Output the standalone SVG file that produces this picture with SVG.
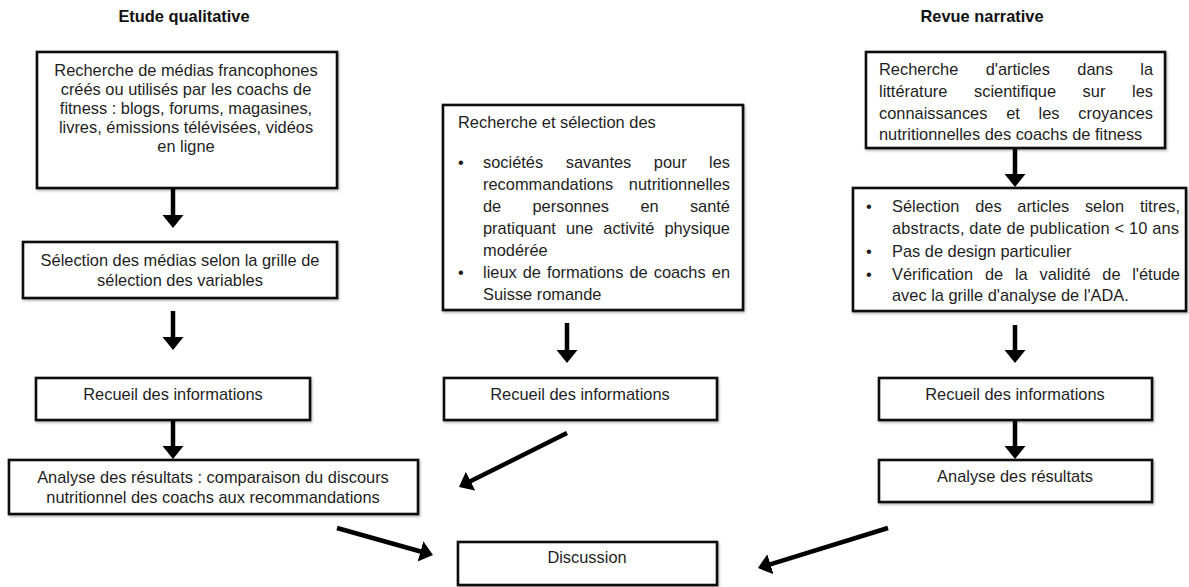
<svg xmlns="http://www.w3.org/2000/svg" width="1189" height="587" viewBox="0 0 1189 587">
<style>
  .box { fill: #fff; stroke: #111; stroke-width: 2.6; filter: url(#sh); }
  .t { font-family: "Liberation Sans", Arial, sans-serif; font-size: 16.4px; fill: #1e1e1e; }
  .c { text-anchor: middle; }
  .e { text-anchor: end; }
  .h { font-family: "Liberation Sans", Arial, sans-serif; font-size: 16.4px; font-weight: bold; fill: #111; text-anchor: middle; }
  .arr { stroke: #000; stroke-width: 4.5; fill: none; marker-end: url(#ah); }
</style>
<defs>
  <filter id="sh" x="-5%" y="-5%" width="110%" height="115%">
    <feDropShadow dx="1" dy="1.5" stdDeviation="1" flood-color="#000" flood-opacity="0.3"/>
  </filter>
  <marker id="ah" markerUnits="userSpaceOnUse" markerWidth="14" markerHeight="22" refX="2" refY="10.5" orient="auto" viewBox="0 0 14 22">
    <path d="M0,0 L13,10.5 L0,21 z" fill="#000"/>
  </marker>
</defs>
<rect width="1189" height="587" fill="#fff"/>

<text class="h" x="184" y="22">Etude qualitative</text>
<text class="h" x="982" y="22">Revue narrative</text>

<g id="connectors">
  <line class="arr" x1="173" y1="189" x2="173" y2="217"/>
  <line class="arr" x1="173" y1="311" x2="173" y2="339"/>
  <line class="arr" x1="173" y1="421" x2="173" y2="448"/>
  <line class="arr" x1="567" y1="323" x2="567" y2="352"/>
  <line class="arr" x1="1015" y1="149" x2="1015" y2="176"/>
  <line class="arr" x1="1015" y1="325" x2="1015" y2="352"/>
  <line class="arr" x1="1015" y1="421" x2="1015" y2="448"/>
  <line class="arr" x1="567" y1="433" x2="468.8" y2="482.1"/>
  <line class="arr" x1="337" y1="528" x2="422.4" y2="552"/>
  <line class="arr" x1="888" y1="528" x2="768.5" y2="564.8"/>
</g>

<g id="n_recherche_medias">
  <rect class="box" x="37" y="52" width="300" height="136"/>
  <text class="t c" x="186" y="76">Recherche de médias francophones</text>
  <text class="t c" x="186" y="95">créés ou utilisés par les coachs de</text>
  <text class="t c" x="186" y="114">fitness : blogs, forums, magasines,</text>
  <text class="t c" x="186" y="133">livres, émissions télévisées, vidéos</text>
  <text class="t c" x="186" y="152">en ligne</text>
</g>

<g id="n_selection_medias">
  <rect class="box" x="23" y="242" width="314" height="56"/>
  <text class="t c" x="180" y="266">Sélection des médias selon la grille de</text>
  <text class="t c" x="180" y="286">sélection des variables</text>
</g>

<g id="n_recueil_left">
  <rect class="box" x="36" y="378" width="274" height="42"/>
  <text class="t c" x="173" y="400">Recueil des informations</text>
</g>

<g id="n_analyse_left">
  <rect class="box" x="9" y="460" width="409" height="54"/>
  <text class="t c" x="213" y="483">Analyse des résultats : comparaison du discours</text>
  <text class="t c" x="213" y="503">nutritionnel des coachs aux recommandations</text>
</g>

<g id="n_recherche_societes">
  <rect class="box" x="443" y="105" width="300" height="205"/>
  <text class="t" x="458" y="128">Recherche et sélection des</text>
  <text class="t" x="458" y="168">•</text>
  <text class="t" x="483" y="168">sociétés</text>
  <text class="t" x="565.7" y="168">savantes</text>
  <text class="t" x="653.8" y="168">pour</text>
  <text class="t e" x="730" y="168">les</text>
  <text class="t" x="483" y="190">recommandations</text>
  <text class="t e" x="730" y="190">nutritionnelles</text>
  <text class="t" x="483" y="212">de</text>
  <text class="t" x="532.5" y="212">personnes</text>
  <text class="t" x="640.4" y="212">en</text>
  <text class="t e" x="730" y="212">santé</text>
  <text class="t" x="483" y="234">pratiquant</text>
  <text class="t" x="565.9" y="234">une</text>
  <text class="t" x="603.3" y="234">activité</text>
  <text class="t e" x="730" y="234">physique</text>
  <text class="t" x="483" y="256">modérée</text>
  <text class="t" x="458" y="278">•</text>
  <text class="t" x="483" y="278">lieux</text>
  <text class="t" x="522.7" y="278">de</text>
  <text class="t" x="546.9" y="278">formations</text>
  <text class="t" x="629.5" y="278">de</text>
  <text class="t" x="653.7" y="278">coachs</text>
  <text class="t e" x="730" y="278">en</text>
  <text class="t" x="483" y="300">Suisse romande</text>
</g>

<g id="n_recueil_mid">
  <rect class="box" x="444" y="378" width="273" height="42"/>
  <text class="t c" x="580" y="400">Recueil des informations</text>
</g>

<g id="n_discussion">
  <rect class="box" x="458" y="542" width="259" height="43"/>
  <text class="t c" x="587" y="563">Discussion</text>
</g>

<g id="n_recherche_articles">
  <rect class="box" x="866" y="52" width="299" height="96"/>
  <text class="t" x="879" y="75">Recherche</text>
  <text class="t" x="985.7" y="75">d'articles</text>
  <text class="t" x="1077.3" y="75">dans</text>
  <text class="t e" x="1153" y="75">la</text>
  <text class="t" x="879" y="97">littérature</text>
  <text class="t" x="974" y="97">scientifique</text>
  <text class="t" x="1082.6" y="97">sur</text>
  <text class="t e" x="1153" y="97">les</text>
  <text class="t" x="879" y="119">connaissances</text>
  <text class="t" x="1006.2" y="119">et</text>
  <text class="t" x="1038.6" y="119">les</text>
  <text class="t e" x="1153" y="119">croyances</text>
  <text class="t" x="879" y="140">nutritionnelles des coachs de fitness</text>
</g>

<g id="n_selection_articles">
  <rect class="box" x="853" y="188" width="333" height="123"/>
  <text class="t" x="866" y="212">•</text>
  <text class="t" x="892" y="212">Sélection</text>
  <text class="t" x="975.2" y="212">des</text>
  <text class="t" x="1017.3" y="212">articles</text>
  <text class="t" x="1084.9" y="212">selon</text>
  <text class="t e" x="1180" y="212">titres,</text>
  <text class="t" x="892" y="234" textLength="287" lengthAdjust="spacing">abstracts, date de publication &lt; 10 ans</text>
  <text class="t" x="866" y="257">•</text>
  <text class="t" x="892" y="257">Pas de design particulier</text>
  <text class="t" x="866" y="280">•</text>
  <text class="t" x="892" y="280">Vérification</text>
  <text class="t" x="984.9" y="280">de</text>
  <text class="t" x="1014.9" y="280">la</text>
  <text class="t" x="1039.5" y="280">validité</text>
  <text class="t" x="1102.3" y="280">de</text>
  <text class="t e" x="1180" y="280">l'étude</text>
  <text class="t" x="892" y="301">avec la grille d'analyse de l'ADA.</text>
</g>

<g id="n_recueil_right">
  <rect class="box" x="879" y="378" width="273" height="42"/>
  <text class="t c" x="1015" y="400">Recueil des informations</text>
</g>

<g id="n_analyse_right">
  <rect class="box" x="879" y="460" width="273" height="42"/>
  <text class="t c" x="1015" y="482">Analyse des résultats</text>
</g>
</svg>
